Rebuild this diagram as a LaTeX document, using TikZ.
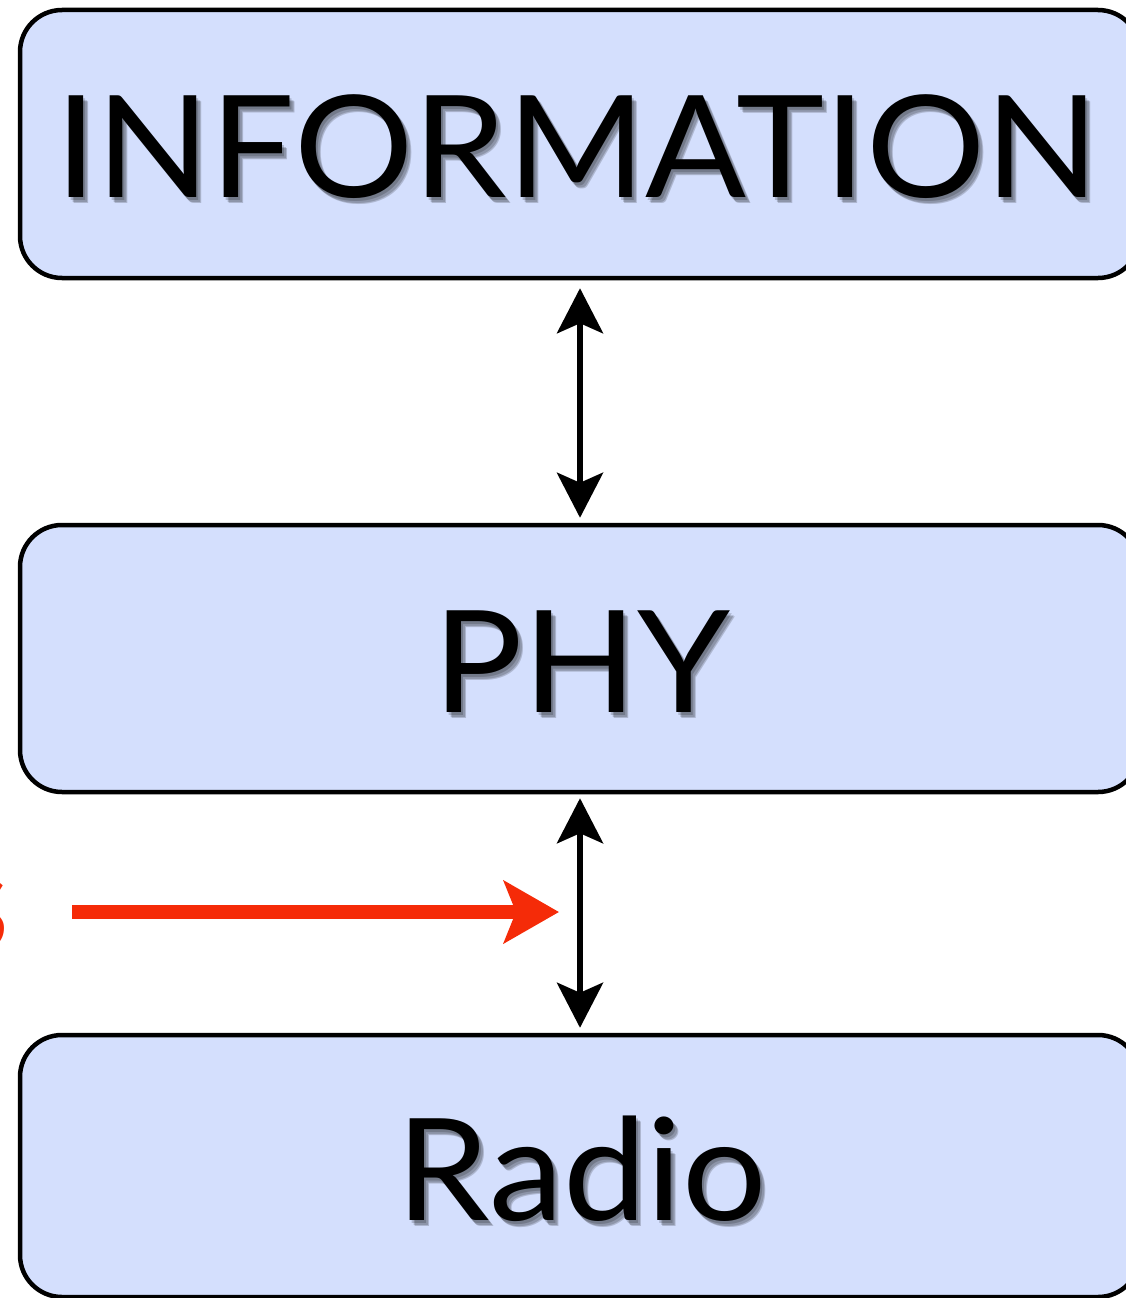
\documentclass[tikz,border=0pt]{standalone}
\usepackage{fontspec}
\setmainfont{Lato}
\usetikzlibrary{arrows.meta,calc}
\definecolor{boxfill}{RGB}{212,223,253}
\definecolor{alertred}{RGB}{245,43,8}
\tikzset{
  layerbox/.style={draw=black, line width=4.5pt, fill=boxfill, rounded corners=42pt,
    minimum width=1120pt, inner sep=0pt},
  layertext/.style={anchor=base, inner sep=0pt, font=\fontsize{142}{150}\selectfont, xscale=1.05},
  shadowtext/.style={layertext, text=black, opacity=0.18},
  biarrow/.style={line width=6pt, {Stealth[length=45pt,width=46pt,inset=10pt]}-{Stealth[length=45pt,width=46pt,inset=10pt]}},
  redarrow/.style={line width=14pt, draw=alertred, -{Stealth[length=55pt,width=62pt,inset=12pt]}},
  redtext/.style={anchor=base east, inner sep=0pt, text=alertred, font=\fontsize{142}{150}\selectfont}
}
\begin{document}
\begin{tikzpicture}[x=1pt,y=-1pt]
  \useasboundingbox (0,0) rectangle (1126,1298);
  % layer boxes
  \node[layerbox, minimum height=268pt] (info) at (580,144) {};
  \node[layerbox, minimum height=267pt] (phy) at (580,658.5) {};
  \node[layerbox, minimum height=262pt] (radio) at (580,1166) {};
  % soft shadows under the labels
  \foreach \dx/\dy in {2/3,4/5,5/6} {
    \node[shadowtext] at (577+\dx,197+\dy) {INFORMATION};
    \node[shadowtext] at (582+\dx,712+\dy) {PHY};
    \node[shadowtext] at (582+\dx,1220+\dy) {Radio};
  }
  % labels
  \node[layertext] (infotext) at (577,197) {INFORMATION};
  \node[layertext] (phytext) at (582,712) {PHY};
  \node[layertext] (radiotext) at (582,1220) {Radio};
  % links between layers
  \draw[biarrow, shorten <=8pt, shorten >=5pt] (info.south) -- (phy.north);
  \draw[biarrow, shorten <=4pt, shorten >=5pt] (phy.south) -- (radio.north);
  % incoming red pointer
  \node[redtext] (cause) at (10,950) {s};
  \coordinate (target) at (559,912);
  \draw[redarrow] (72,912) -- (target);
\end{tikzpicture}
\end{document}
